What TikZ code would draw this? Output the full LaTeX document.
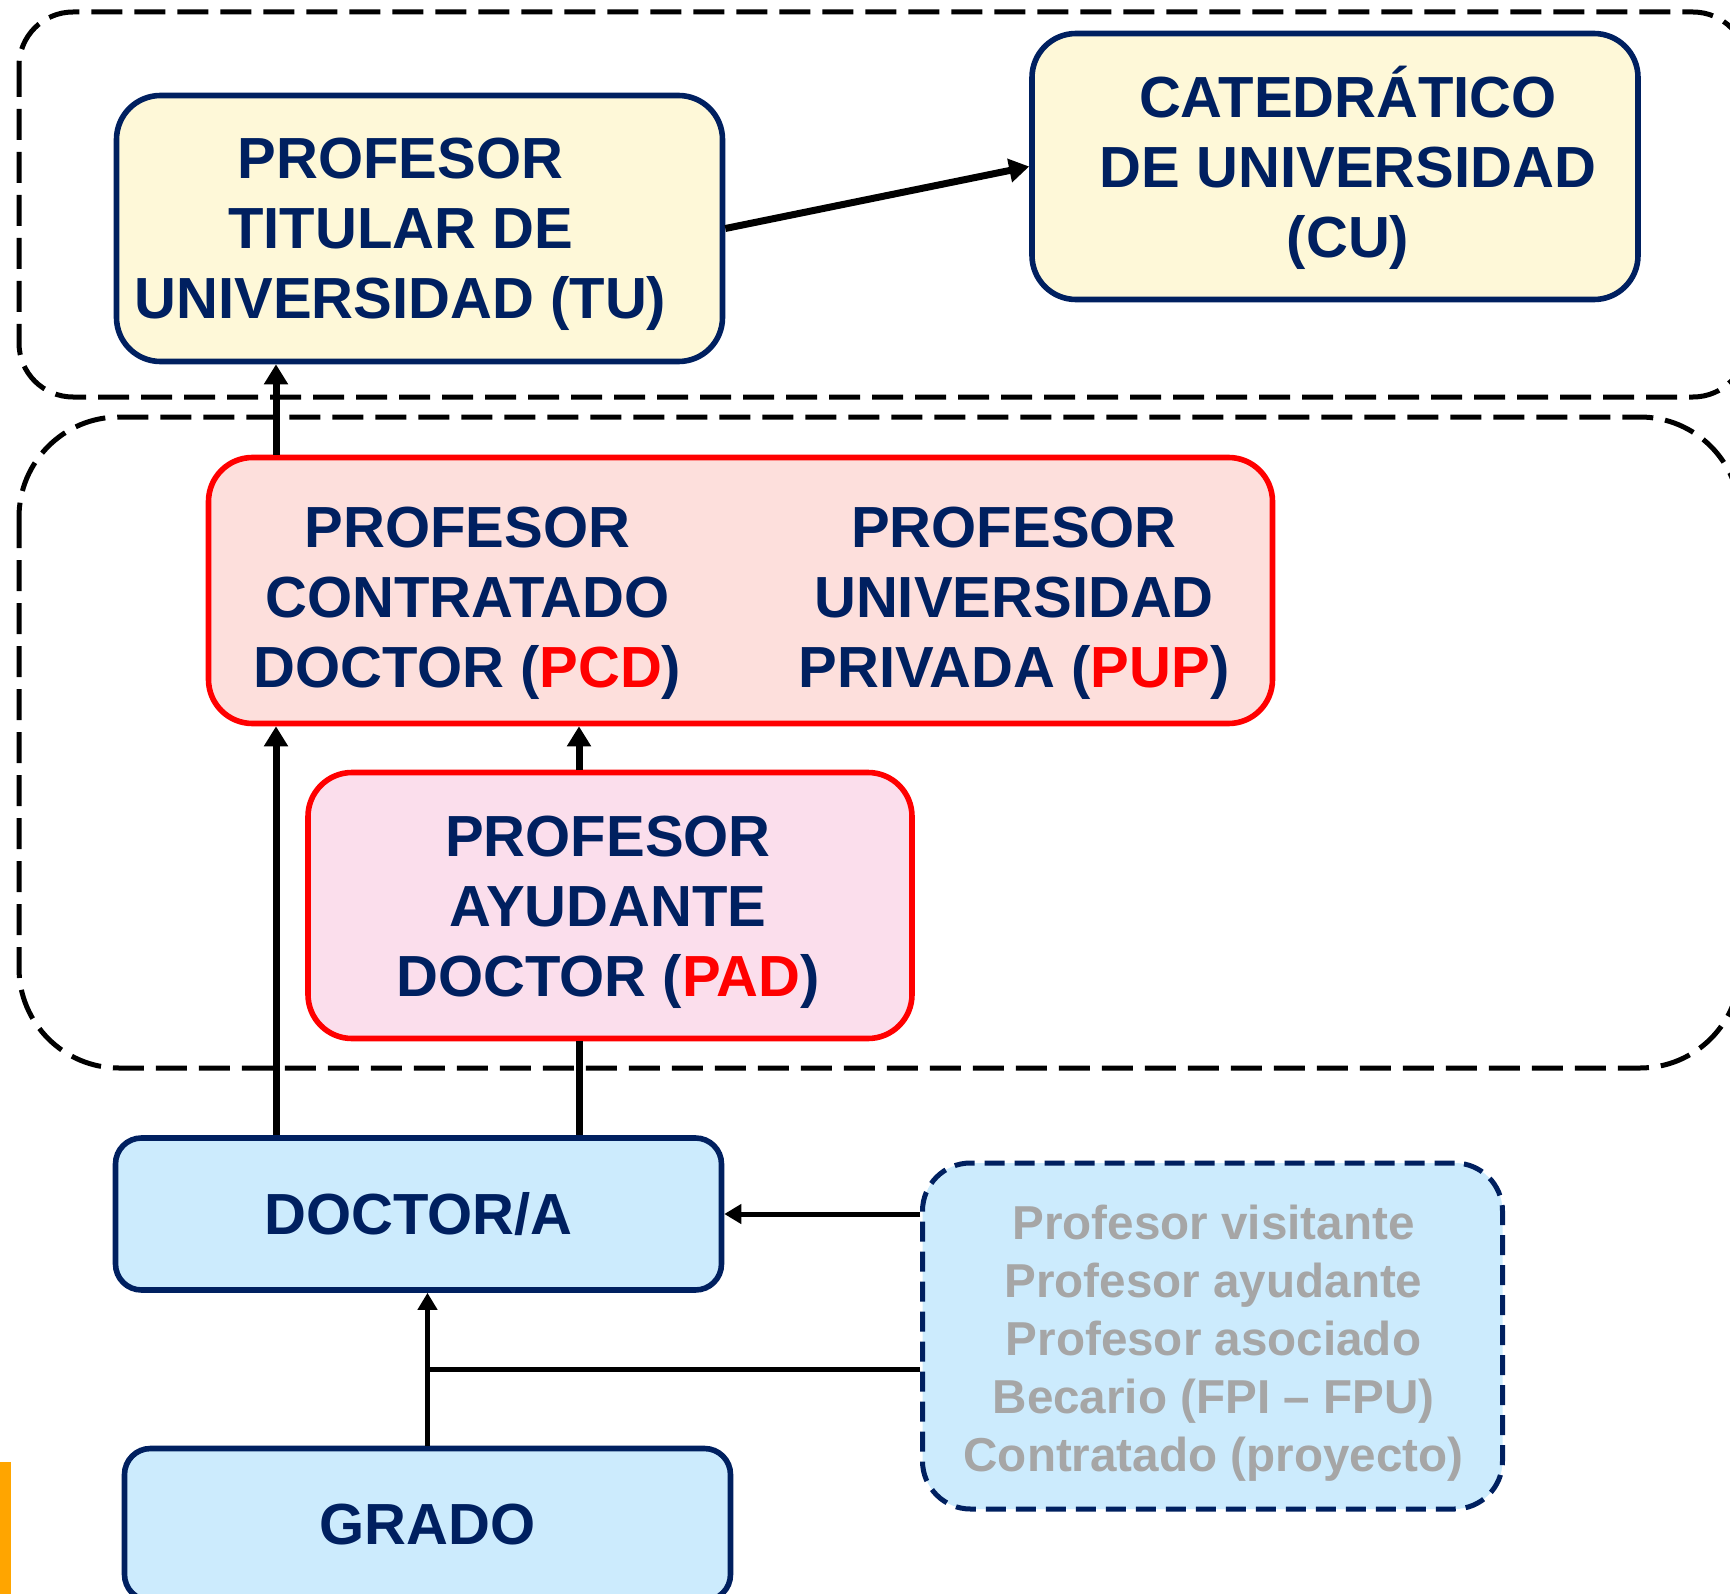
\documentclass[tikz,border=0pt]{standalone}
\usepackage{fontspec}
\setmainfont{Liberation Sans}
\usetikzlibrary{arrows.meta}
\definecolor{azul}{HTML}{002060}
\definecolor{rojo}{HTML}{FF0000}
\definecolor{crema}{HTML}{FEF8D8}
\definecolor{salmon}{HTML}{FDDFDC}
\definecolor{rosa}{HTML}{FBDEEC}
\definecolor{celeste}{HTML}{CCEBFD}
\definecolor{gris}{HTML}{A6A6A6}
\definecolor{naranja}{HTML}{FFA500}
\newcommand{\sigla}[1]{\textcolor{rojo}{#1}}
\tikzset{
	caja/.style={
		rounded corners=22pt,
		line width=2.8pt,
		align=center,
		inner sep=0pt,
		text=azul,
		font=\fontsize{29}{35}\selectfont\bfseries,
	},
	titular/.style={
		caja,
		draw=azul,
		fill=crema,
		minimum width=303pt,
		minimum height=133pt,
	},
	contrato/.style={
		caja,
		draw=rojo,
		minimum height=133pt,
	},
	acceso/.style={
		caja,
		draw=azul,
		fill=celeste,
		rounded corners=13pt,
		minimum width=303pt,
		minimum height=76pt,
	},
	otros/.style={
		caja,
		draw=azul,
		fill=celeste,
		rounded corners=24pt,
		line width=2.5pt,
		dash pattern=on 10pt off 5pt,
	},
	texto/.style={
		align=center,
		inner sep=0pt,
		text=azul,
		font=\fontsize{29}{35}\selectfont\bfseries,
	},
	lista/.style={
		texto,
		text=gris,
		font=\fontsize{23.8}{29}\selectfont\bfseries,
	},
	grupo/.style={
		draw=black,
		line width=2.5pt,
		dash pattern=on 15.5pt off 6pt,
	},
	flecha/.style={
		line width=3.5pt,
		-{Triangle[length=10pt,width=11.5pt]}
	},
	enlace/.style={line width=3.5pt},
	fina/.style={
		line width=2.5pt,
		-{Triangle[length=8.5pt,width=9.5pt]}
	},
}

\begin{document}
\begin{tikzpicture}[x=0.5pt, y=-0.5pt]
	\useasboundingbox (0,0) rectangle (1730,1594);

	% niveles
	\draw[grupo, rounded corners=27pt] (19,12) rectangle (1747,397);
	\draw[grupo, rounded corners=50pt] (19,417) rectangle (1740,1068);
	\fill[naranja] (0,1462) rectangle (11,1594);

	\node[titular] (tu) at (419.5,228.5) {};
	\node[texto] (tutxt) at (400.5,234.5) {PROFESOR\\TITULAR DE\\UNIVERSIDAD (TU)};
	\node[titular] (cu) at (1335,166.5) {};
	\node[texto] (cutxt) at (1348,168) {CATEDRÁTICO\\DE UNIVERSIDAD\\(CU)};

	\node[contrato, fill=salmon, minimum width=532pt] (pcdbox) at (740.5,590.5) {};
	\node[texto] (pcd) at (467.5,603.5) {PROFESOR\\CONTRATADO\\DOCTOR (\sigla{PCD})};
	\node[texto] (pup) at (1014,603.5) {PROFESOR\\UNIVERSIDAD\\PRIVADA (\sigla{PUP})};
	\node[contrato, fill=rosa, minimum width=302pt] (pad) at (610,905.5) {};
	\node[texto] (padtxt) at (608,912.5) {PROFESOR\\AYUDANTE\\DOCTOR (\sigla{PAD})};

	\node[acceso] (doctor) at (418.5,1214) {DOCTOR/A};
	\node[acceso] (grado) at (427.5,1524.5) {GRADO};
	\node[otros, minimum width=290pt, minimum height=173pt] (otros) at (1212.5,1336) {};
	\node[lista] (otrostxt) at (1213.5,1343)
		{Profesor visitante\\Profesor ayudante\\Profesor asociado\\Becario (FPI -- FPU)\\Contratado (proyecto)};

	\coordinate (via1) at (276,0);
	\coordinate (via2) at (579,0);
	\coordinate (cruce) at (427.5,1369);

	\draw[flecha] (tu.east) -- (cu.west);
	\draw[flecha] (pcdbox.north -| via1) -- (tu.south -| via1);
	\draw[flecha] (doctor.north -| via1) -- (pcdbox.south -| via1);
	\draw[enlace] (doctor.north -| via2) -- (pad.south -| via2);
	\draw[flecha] (pad.north -| via2) -- (pcdbox.south -| via2);

	\draw[fina] (grado.north) -- (doctor.south -| grado.north);
	\draw[line width=2.5pt] (otros.west |- cruce) -- (cruce);
	\draw[fina] (otros.west |- doctor.east) -- (doctor.east);
\end{tikzpicture}
\end{document}
